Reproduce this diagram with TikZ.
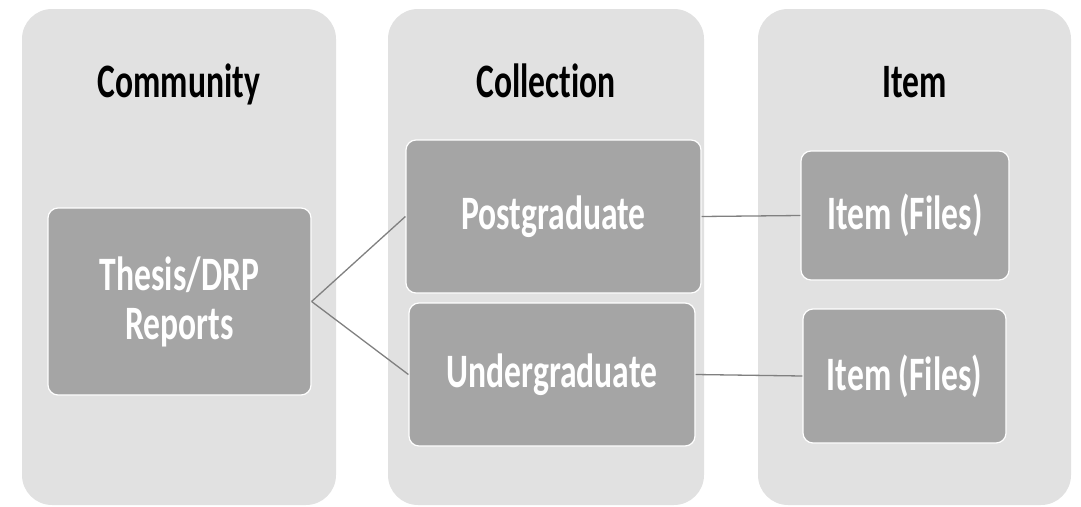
\documentclass[tikz,border=0pt]{standalone}
\usepackage{fontspec}
\setmainfont[FakeStretch=0.70, Ligatures=NoCommon]{Carlito}
\usepackage{tikz}
\usetikzlibrary{positioning, calc}
\pgfdeclarelayer{bg}
\pgfsetlayers{bg,main}
\definecolor{colbg}{HTML}{E1E1E1}
\definecolor{boxfill}{HTML}{A5A5A5}
\definecolor{linkgray}{HTML}{808080}

\begin{document}
\begin{tikzpicture}[x=1pt, y=-1pt,
    column/.style={fill=colbg, rounded corners=30pt, minimum width=314pt, minimum height=496pt, inner sep=0pt},
    head/.style={anchor=base, font=\fontsize{48}{49}\selectfont\bfseries},
    entry/.style={fill=boxfill, draw=white, line width=1.2pt, rounded corners=10pt, inner sep=0pt, align=center, text=white, font=\fontsize{48}{49}\selectfont\bfseries},
    link/.style={draw=linkgray, line width=1.3pt}]
    \useasboundingbox (0,0) rectangle (1081,506);

    \begin{pgfonlayer}{bg}    % column backgrounds
        \node [column] (colcom) at (179,257) {};
        \node [column, minimum width=316pt] (colcoll) at (546,257) {};
        \node [column, minimum width=313pt] (colitem) at (914.5,257) {};
    \end{pgfonlayer}

    \node [head] (community) at (179,97) {Community};
    \node [head] (collection) at (546,97) {Collection};
    \node [head] (item) at (914.5,97) {Item};

    \node [entry, minimum width=263pt, minimum height=187pt] (thesis) at (179.5,301.5) {Thesis/DRP\\Reports};
    \node [entry, minimum width=295pt, minimum height=153pt] (post) at (553.5,216.5) {Postgraduate};
    \node [entry, minimum width=286pt, minimum height=143pt] (under) at (552,374.5) {Undergraduate};
    \node [entry, minimum width=208pt, minimum height=129pt] (files1) at (905,215.5) {Item (Files)};
    \node [entry, minimum width=203pt, minimum height=134pt] (files2) at (904.5,376) {Item (Files)};

    \draw [link] (thesis.east) -- (post.west);
    \draw [link] (thesis.east) -- (under.west);
    \draw [link] (post.east) -- (files1.west);
    \draw [link] (under.east) -- (files2.west);
\end{tikzpicture}
\end{document}
